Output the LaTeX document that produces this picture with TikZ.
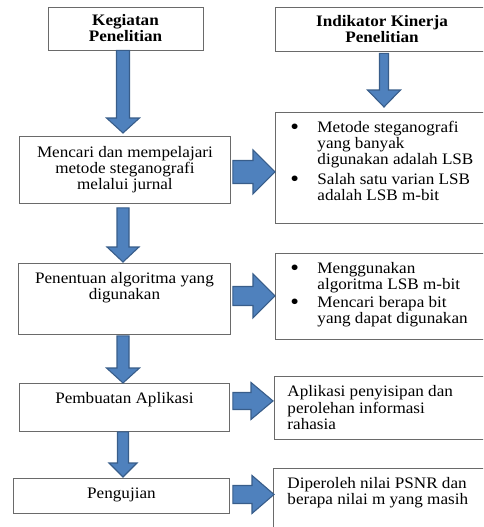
\documentclass[tikz,border=0pt]{standalone}
\usepackage{graphicx}
\usepackage{fontspec}
\setmainfont{Liberation Serif}[FakeStretch=1.07]
\usetikzlibrary{calc,positioning}

\definecolor{panahbiru}{HTML}{4F81BD}
\definecolor{panahtepi}{HTML}{385D8A}
\definecolor{garis}{HTML}{6A6A6A}

% block arrow: start, tip, half shaft, half head, head length
\newcommand{\panah}[5]{%
  \coordinate (pangkal) at ($(#2)!#5!(#1)$);
  \draw[blok] ($(#1)!#3!90:(#2)$) -- ($(pangkal)!#3!90:(#2)$) -- ($(pangkal)!#4!90:(#2)$)
    -- (#2) -- ($(pangkal)!#4!-90:(#2)$) -- ($(pangkal)!#3!-90:(#2)$) -- ($(#1)!#3!-90:(#2)$) -- cycle;
}
% box text: height, width, text
\newcommand{\isitengah}[3]{\parbox[c][#1][c]{#2}{\centering #3}}
\newcommand{\isiatas}[3]{\parbox[c][#1][t]{#2}{\vspace*{9pt}\centering\strut #3}}
\newcommand{\isikiri}[4]{\parbox[c][#1][t]{#2}{\vspace*{9pt}\raggedright\leftskip=#3\relax #4}}
\newcommand{\butir}{\noindent\llap{\makebox[27pt][l]{\raisebox{-2pt}{\scalebox{1.45}{\textbullet}}}}\strut}

\begin{document}
\begin{tikzpicture}[
  x=1pt, y=-1pt,
  font=\fontsize{16}{16}\selectfont,
  judul/.style={rectangle, draw=garis, line width=0.9pt, align=center,
    font=\fontsize{16}{16}\selectfont\bfseries, inner sep=0pt},
  kotak/.style={rectangle, draw=garis, line width=0.9pt, inner sep=0pt, anchor=north west},
  blok/.style={fill=panahbiru, draw=panahtepi, line width=1.1pt, line join=miter}
]
\useasboundingbox (0,0) rectangle (483,527);
\clip (0,0) rectangle (483,527);

% Headers
\node[judul, minimum width=155pt, minimum height=43pt] (kegiatan) at (125.5,28.5) {Kegiatan\\Penelitian};
\node[judul, minimum width=214pt, minimum height=44pt] (indikator) at (382,29) {Indikator Kinerja\\Penelitian};

% Kegiatan
\node[kotak] (cari)  at (19,136) {\isitengah{67pt}{211pt}{Mencari dan mempelajari\\ metode steganografi\\ melalui jurnal}};
\node[kotak] (tentu) at (18,263) {\isiatas{71pt}{212pt}{Penentuan algoritma yang\\ digunakan}};
\node[kotak] (buat)  at (19,383) {\isiatas{48pt}{210pt}{Pembuatan Aplikasi}};
\node[kotak] (uji)   at (13,478) {\isiatas{35pt}{216pt}{Pengujian}};

% Indikator
\node[kotak] (ind1) at (275,112) {\isikiri{111pt}{214pt}{42pt}{\butir Metode steganografi\\ yang banyak\\ digunakan adalah LSB\par\vspace{4pt}\butir Salah satu varian LSB\\ adalah LSB m-bit}};
\node[kotak] (ind2) at (275,253) {\isikiri{86pt}{214pt}{42pt}{\butir Menggunakan\\ algoritma LSB m-bit\par\vspace{2pt}\butir Mencari berapa bit\\ yang dapat digunakan}};
\node[kotak] (ind3) at (274,376) {\isikiri{63pt}{215pt}{13pt}{\strut Aplikasi penyisipan dan\\ perolehan informasi\\ rahasia}};
\node[kotak] (ind4) at (273,468) {\isikiri{80pt}{216pt}{14pt}{\strut Diperoleh nilai PSNR dan\\ berapa nilai m yang masih}};

% Arrow ends
\coordinate (kol) at (123,0);
\coordinate (kolkanan) at (384,0);
\coordinate (v1s) at (kegiatan.south -| kol);
\coordinate (v1t) at ($(cari.north -| kol)+(0,-3)$);
\coordinate (v2s) at ($(cari.south -| kol)+(0,4)$);
\coordinate (v2t) at ($(tentu.north -| kol)+(0,-1)$);
\coordinate (v3s) at ($(tentu.south -| kol)+(0,1)$);
\coordinate (v3t) at (buat.north -| kol);
\coordinate (v4s) at (buat.south -| kol);
\coordinate (v4t) at ($(uji.north -| kol)+(0,-1)$);
\coordinate (vks) at ($(indikator.south -| kolkanan)+(0,2)$);
\coordinate (vkt) at ($(ind1.north -| kolkanan)+(0,-5)$);
\coordinate (h1s) at ($(cari.east)+(2,2)$);
\coordinate (h1t) at (ind1.west |- h1s);
\coordinate (h2s) at ($(tentu.east)+(2,-3)$);
\coordinate (h2t) at (ind2.west |- h2s);
\coordinate (h3s) at ($(buat.east)+(3,-6.5)$);
\coordinate (h3t) at ($(ind3.west |- h3s)+(-1,0)$);
\coordinate (h4s) at ($(uji.east)+(3,-1.5)$);
\coordinate (h4t) at ($(ind4.west |- h4s)+(1,0)$);

% Arrows
\panah{v1s}{v1t}{6.5pt}{16.5pt}{15pt}
\panah{v2s}{v2t}{6pt}{16pt}{15pt}
\panah{v3s}{v3t}{6pt}{16.5pt}{15pt}
\panah{v4s}{v4t}{5.5pt}{14pt}{14pt}
\panah{vks}{vkt}{4.5pt}{16.5pt}{17pt}
\panah{h1s}{h1t}{11.5pt}{22pt}{22pt}
\panah{h2s}{h2t}{9.5pt}{22pt}{22pt}
\panah{h3s}{h3t}{8.5pt}{18.5pt}{22pt}
\panah{h4s}{h4t}{9pt}{19pt}{22pt}

\end{tikzpicture}
\end{document}
